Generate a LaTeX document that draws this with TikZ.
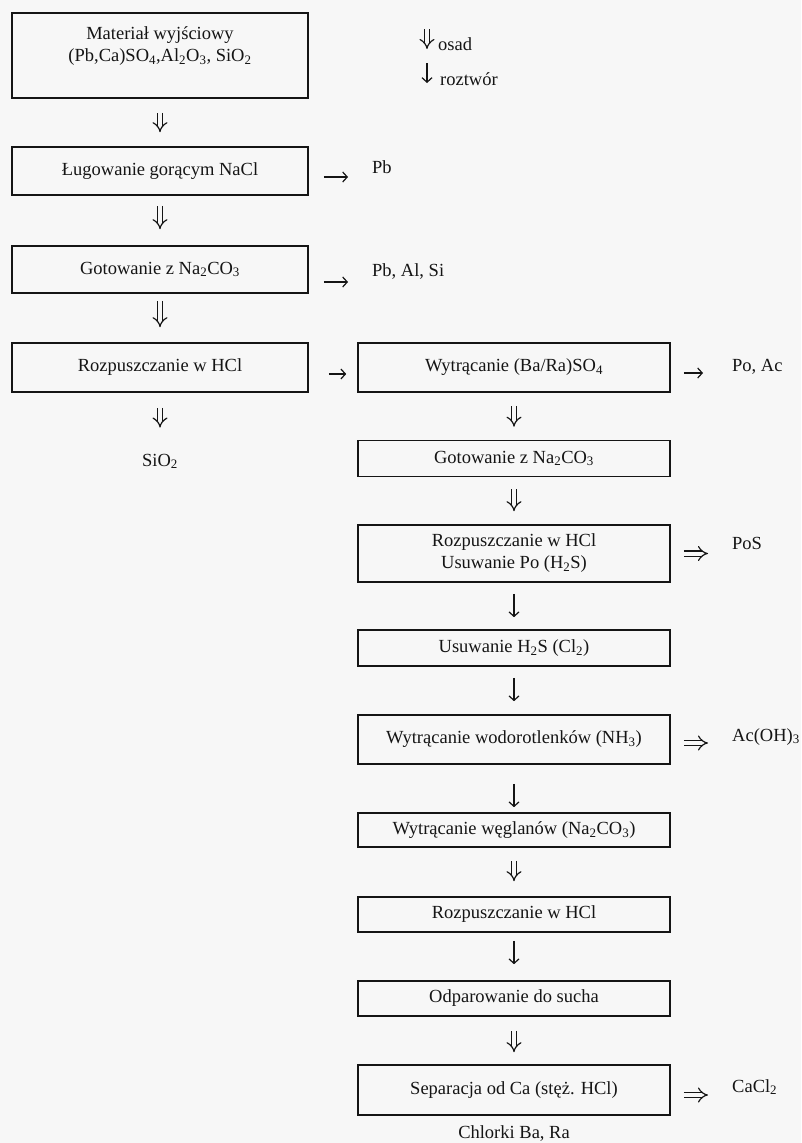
\documentclass[tikz,border=0pt]{standalone}
\usepackage{fontspec}
\setmainfont{Liberation Serif}
\usetikzlibrary{arrows.meta}
\definecolor{ink}{HTML}{151515}
\definecolor{paper}{HTML}{F7F7F7}
\begin{document}
\begin{tikzpicture}[x=1pt,y=-1pt,
  every node/.style={font=\fontsize{18.5}{22}\selectfont, text=ink},
  procbox/.style={draw=ink, line width=1.6pt, inner sep=0pt, align=center},
  lbox/.style={procbox, minimum width=296pt},
  rbox/.style={procbox, minimum width=312pt},
  outlbl/.style={anchor=base west, inner sep=0pt},
  dar/.style={draw=ink, line width=1.2pt, double=paper, double distance=4pt, -{Implies[length=6pt,width=14pt]}},
  sar/.style={draw=ink, line width=1.2pt, -{Straight Barb[length=4.5pt,width=10pt]}},
]
\fill[paper] (0,0) rectangle (801,1143);
\useasboundingbox (0,0) rectangle (801,1143);

% left column
\node[lbox, minimum height=85pt] (b1) at (160,55.5) {Materiał wyjściowy\\(Pb,Ca)SO\textsubscript{4},Al\textsubscript{2}O\textsubscript{3}, SiO\textsubscript{2}\\\mbox{}};
\node[lbox, minimum height=48pt] (b2) at (160,171) {Ługowanie gorącym NaCl};
\node[lbox, minimum height=47pt] (b3) at (160,269.5) {Gotowanie z Na\textsubscript{2}CO\textsubscript{3}};
\node[lbox, minimum height=49pt] (b4) at (160,367.5) {Rozpuszczanie w HCl};
\node[anchor=base, inner sep=0pt] (sio) at (160,466) {SiO\textsubscript{2}};

% right column
\node[rbox, minimum height=49pt] (r1) at (514,367.5) {Wytrącanie (Ba/Ra)SO\textsubscript{4}};
\node[rbox, minimum height=36pt] (r2) at (514,458.5) {Gotowanie z Na\textsubscript{2}CO\textsubscript{3}};
\node[rbox, minimum height=57pt] (r3) at (514,553.5) {Rozpuszczanie w HCl\\Usuwanie Po (H\textsubscript{2}S)};
\node[rbox, minimum height=36pt] (r4) at (514,648) {Usuwanie H\textsubscript{2}S (Cl\textsubscript{2})};
\node[rbox, minimum height=49pt] (r5) at (514,739.5) {Wytrącanie wodorotlenków (NH\textsubscript{3})};
\node[rbox, minimum height=34pt] (r6) at (514,830) {Wytrącanie węglanów (Na\textsubscript{2}CO\textsubscript{3})};
\node[rbox, minimum height=35pt] (r7) at (514,914.5) {Rozpuszczanie w HCl};
\node[rbox, minimum height=35pt] (r8) at (514,998.5) {Odparowanie do sucha};
\node[rbox, minimum height=50pt] (r9) at (514,1090) {Separacja od Ca (stęż. HCl)};
\node[anchor=base, inner sep=0pt] (chl) at (514,1138) {Chlorki Ba, Ra};

% side products
\node[outlbl] (pb) at (372,173) {Pb};
\node[outlbl] (pbalsi) at (372,276) {Pb, Al, Si};
\node[outlbl] (poac) at (732,371) {Po, Ac};
\node[outlbl] (pos) at (732,549) {PoS};
\node[outlbl] (acoh) at (732,741) {Ac(OH)\textsubscript{3}};
\node[outlbl] (cacl) at (732,1092) {CaCl\textsubscript{2}};

% legend
\coordinate (lgA) at (427,29);
\coordinate (lgB) at (427,49);
\coordinate (lgC) at (427,63);
\coordinate (lgD) at (427,83);
\draw[dar] (lgA) -- (lgB);
\node[outlbl] (osad) at (438,50) {osad};
\draw[sar] (lgC) -- (lgD);
\node[outlbl] (roztwor) at (440,85) {roztwór};

% vertical connectors
\draw[dar, shorten <=14pt, shorten >=14pt] (b1) -- (b2);
\draw[dar, shorten <=10pt, shorten >=16pt] (b2) -- (b3);
\draw[dar, shorten <=7pt, shorten >=15pt] (b3) -- (b4);
\draw[dar, shorten <=15pt, shorten >=26pt] (b4) -- (sio);
\draw[dar, shorten <=13pt, shorten >=13pt] (r1) -- (r2);
\draw[dar, shorten <=12pt, shorten >=13pt] (r2) -- (r3);
\draw[sar, shorten <=11pt, shorten >=12pt] (r3) -- (r4);
\draw[sar, shorten <=11pt, shorten >=13pt] (r4) -- (r5);
\draw[sar, shorten <=19pt, shorten >=5pt] (r5) -- (r6);
\draw[dar, shorten <=13pt, shorten >=15pt] (r6) -- (r7);
\draw[sar, shorten <=8pt, shorten >=16pt] (r7) -- (r8);
\draw[dar, shorten <=14pt, shorten >=12pt] (r8) -- (r9);

% horizontal connectors
\draw[sar, shorten <=15pt, shorten >=24pt] ([yshift=-6pt]b2.east) -- ([yshift=-6pt]b2.east -| pb.west);
\draw[sar, shorten <=15pt, shorten >=24pt] ([yshift=-12.5pt]b3.east) -- ([yshift=-12.5pt]b3.east -| pbalsi.west);
\draw[sar, shorten <=20pt, shorten >=11pt] ([yshift=-6.5pt]b4.east) -- ([yshift=-6.5pt]r1.west);
\draw[sar, shorten <=13pt, shorten >=29pt] ([yshift=-5.5pt]r1.east) -- ([yshift=-5.5pt]r1.east -| poac.west);
\draw[dar, shorten <=13pt, shorten >=24pt] (r3.east) -- (r3.east -| pos.west);
\draw[dar, shorten <=13pt, shorten >=24pt] ([yshift=-3.5pt]r5.east) -- ([yshift=-3.5pt]r5.east -| acoh.west);
\draw[dar, shorten <=13pt, shorten >=24pt] ([yshift=-5pt]r9.east) -- ([yshift=-5pt]r9.east -| cacl.west);
\end{tikzpicture}
\end{document}
